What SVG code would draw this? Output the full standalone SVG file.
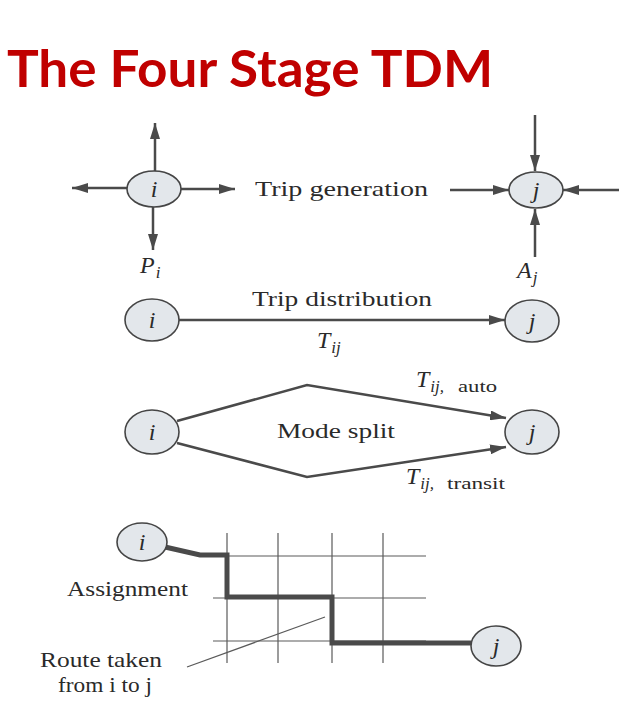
<svg xmlns="http://www.w3.org/2000/svg" width="632" height="713" viewBox="0 0 632 713">
<defs>
<style>
.nd{fill:#e3e7eb;stroke:#454545;stroke-width:1.6}
.lt{font-family:"Liberation Serif","Times New Roman",serif;font-size:22px;fill:#2a2a2a}
.it{font-family:"Liberation Serif","Times New Roman",serif;font-style:italic;fill:#2a2a2a}
.ln{stroke:#4a4a4a;stroke-width:2.5;fill:none}
.gr{stroke:#5a5a5a;stroke-width:1.2;fill:none}
.rt{stroke:#4a4a4a;stroke-width:5;fill:none;stroke-linejoin:miter}
</style>
<marker id="ah" viewBox="0 0 16 10" refX="16" refY="5" markerWidth="16" markerHeight="10" markerUnits="userSpaceOnUse" orient="auto">
<path d="M0,0 L16,5 L0,10 Z" fill="#4a4a4a"/>
</marker>
</defs>
<rect width="632" height="713" fill="#ffffff"/>
<text x="7" y="87" font-family="Lato,'Open Sans',sans-serif" font-weight="bold" font-size="51" fill="#c00000" textLength="486" lengthAdjust="spacingAndGlyphs">The Four Stage TDM</text>

<g id="connectors">
<line class="ln" x1="155" y1="171" x2="155" y2="123" marker-end="url(#ah)"/>
<line class="ln" x1="153" y1="207" x2="153" y2="250" marker-end="url(#ah)"/>
<line class="ln" x1="127" y1="188" x2="72" y2="188" marker-end="url(#ah)"/>
<line class="ln" x1="181" y1="189" x2="235" y2="189" marker-end="url(#ah)"/>
<line class="ln" x1="535" y1="115" x2="535" y2="171" marker-end="url(#ah)"/>
<line class="ln" x1="450" y1="190" x2="509" y2="190" marker-end="url(#ah)"/>
<line class="ln" x1="619" y1="190" x2="563" y2="190" marker-end="url(#ah)"/>
<line class="ln" x1="535" y1="257" x2="535" y2="209" marker-end="url(#ah)"/>
<line class="ln" x1="179" y1="320" x2="505" y2="320" marker-end="url(#ah)"/>
<polyline class="ln" points="177,421 307,385 506,418" marker-end="url(#ah)"/>
<polyline class="ln" points="177,443 307,477 506,447" marker-end="url(#ah)"/>
<g id="grid">
<line class="gr" x1="227" y1="533" x2="227" y2="663"/>
<line class="gr" x1="278" y1="533" x2="278" y2="663"/>
<line class="gr" x1="332" y1="533" x2="332" y2="663"/>
<line class="gr" x1="383" y1="533" x2="383" y2="663"/>
<line class="gr" x1="213" y1="556" x2="426" y2="556"/>
<line class="gr" x1="213" y1="598" x2="426" y2="598"/>
<line class="gr" x1="213" y1="641" x2="426" y2="641"/>
</g>
<polyline class="rt" points="165,547 200,555 227,555 227,597 332,597 332,643 471,643"/>
<line class="gr" x1="187" y1="667" x2="325" y2="617"/>
</g>

<g id="gen-i"><ellipse class="nd" cx="154" cy="189" rx="27" ry="18"/><text class="it" x="154" y="197" font-size="24" text-anchor="middle">i</text></g>
<g id="gen-j"><ellipse class="nd" cx="536" cy="190" rx="27" ry="18"/><text class="it" x="536" y="198" font-size="24" text-anchor="middle">j</text></g>
<g id="dist-i"><ellipse class="nd" cx="152" cy="320" rx="27" ry="21"/><text class="it" x="152" y="328" font-size="24" text-anchor="middle">i</text></g>
<g id="dist-j"><ellipse class="nd" cx="532" cy="321" rx="27" ry="21"/><text class="it" x="532" y="329" font-size="24" text-anchor="middle">j</text></g>
<g id="mode-i"><ellipse class="nd" cx="152" cy="432" rx="27" ry="22"/><text class="it" x="152" y="440" font-size="24" text-anchor="middle">i</text></g>
<g id="mode-j"><ellipse class="nd" cx="532" cy="432" rx="27" ry="22"/><text class="it" x="532" y="440" font-size="24" text-anchor="middle">j</text></g>
<g id="asg-i"><ellipse class="nd" cx="142" cy="542" rx="25" ry="19"/><text class="it" x="142" y="550" font-size="24" text-anchor="middle">i</text></g>
<g id="asg-j"><ellipse class="nd" cx="496" cy="646" rx="25" ry="20"/><text class="it" x="496" y="654" font-size="24" text-anchor="middle">j</text></g>

<g id="labels">
<text class="lt" x="255" y="196" textLength="173" lengthAdjust="spacingAndGlyphs">Trip generation</text>
<text class="it" x="140" y="273" font-size="24">P<tspan font-size="17" dx="1" dy="5">i</tspan></text>
<text class="it" x="517" y="278" font-size="24">A<tspan font-size="17" dx="1" dy="5">j</tspan></text>
<text class="lt" x="252" y="306" textLength="180" lengthAdjust="spacingAndGlyphs">Trip distribution</text>
<text class="it" x="317" y="348" font-size="24">T<tspan font-size="17" dx="1" dy="5">ij</tspan></text>
<text class="lt" x="277" y="438" textLength="118" lengthAdjust="spacingAndGlyphs">Mode split</text>
<text class="it" x="416" y="387" font-size="24">T<tspan font-size="17" dx="1" dy="5">ij,</tspan><tspan font-style="normal" font-size="16" x="458" textLength="39" lengthAdjust="spacingAndGlyphs">auto</tspan></text>
<text class="it" x="406" y="484" font-size="24">T<tspan font-size="17" dx="1" dy="5">ij,</tspan><tspan font-style="normal" font-size="16" x="447" textLength="58" lengthAdjust="spacingAndGlyphs">transit</tspan></text>
<text class="lt" x="67" y="596" textLength="121" lengthAdjust="spacingAndGlyphs">Assignment</text>
<text class="lt" x="40" y="667" textLength="122" lengthAdjust="spacingAndGlyphs">Route taken</text>
<text class="lt" x="58" y="692" textLength="94" lengthAdjust="spacingAndGlyphs">from i to j</text>
</g>
</svg>
